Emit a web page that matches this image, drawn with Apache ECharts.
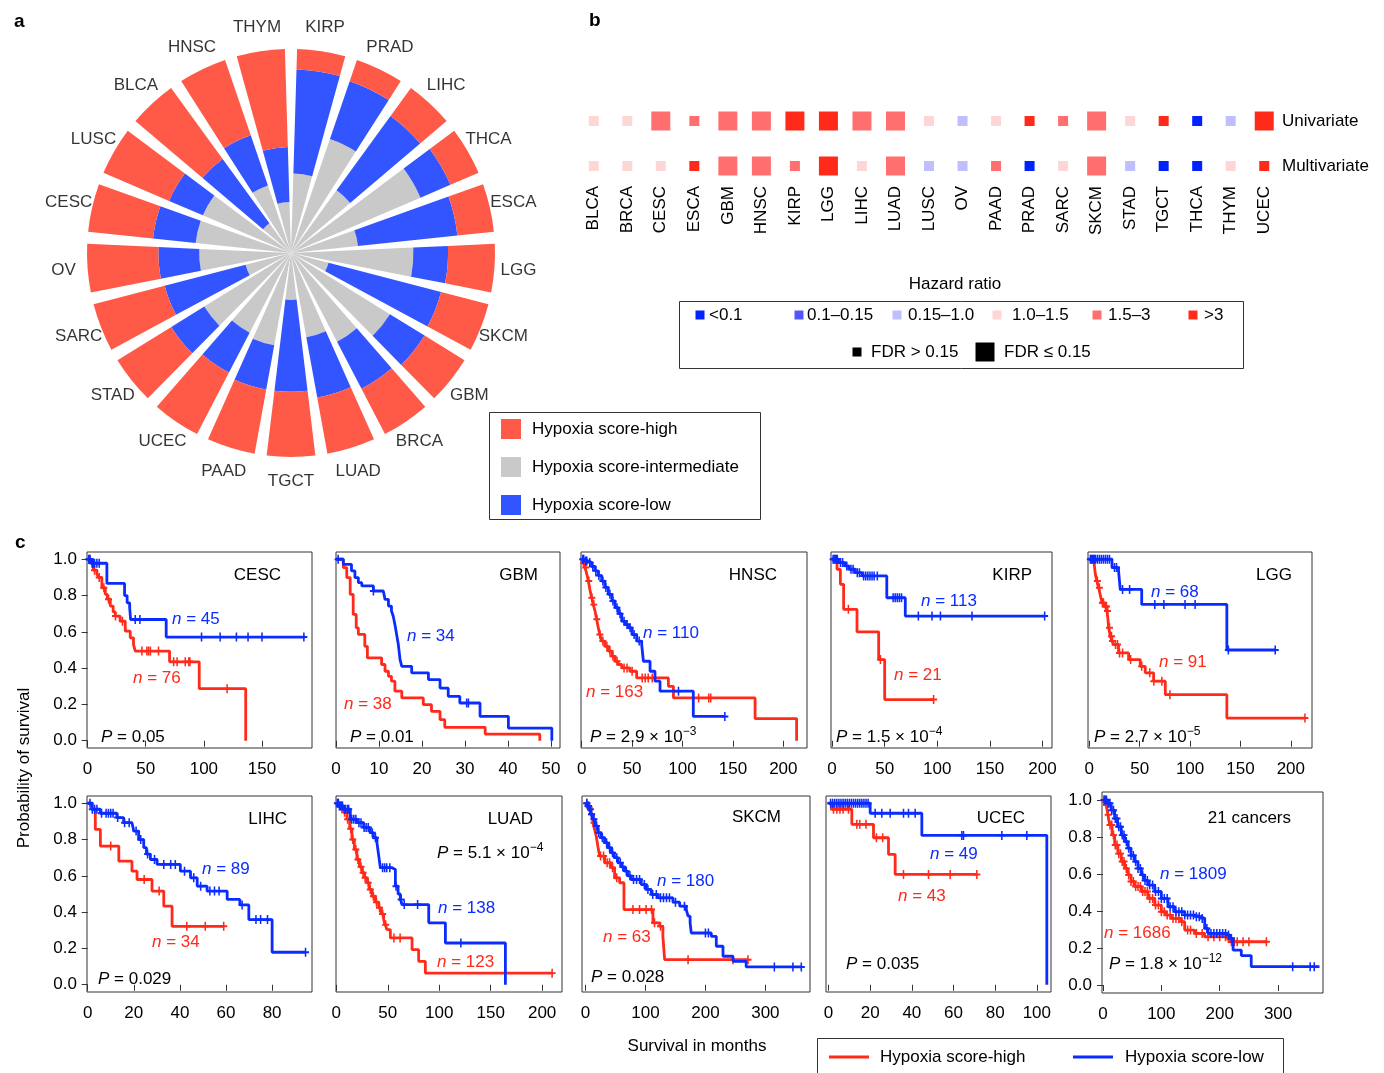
<!DOCTYPE html>
<html><head><meta charset="utf-8">
<script src="https://cdn.jsdelivr.net/npm/echarts@6/dist/echarts.min.js"></script>
<style>html,body{margin:0;padding:0;background:#fff}#c{width:1384px;height:1073px}</style>
</head><body><div id="c"></div>
<script>
const FONT = '"Liberation Sans", Arial, Helvetica, sans-serif';
const FS = 17;

// ---------- Panel a data ----------
const polarCats = ['KIRP','PRAD','LIHC','THCA','ESCA','LGG','SKCM','GBM','BRCA','LUAD','TGCT','PAAD','UCEC','STAD','SARC','OV','CESC','LUSC','BLCA','HNSC','THYM'];
const interShare = [0.39,0.59,0.38,0.69,0.33,0.60,0.19,0.57,0.49,0.42,0.23,0.46,0.44,0.50,0.23,0.45,0.47,0.47,0.18,0.35,0.25];
const lowShare   = [0.51,0.30,0.45,0.16,0.49,0.17,0.57,0.20,0.26,0.30,0.45,0.22,0.22,0.19,0.41,0.20,0.21,0.18,0.39,0.26,0.27];
const highShare  = [0.10,0.11,0.17,0.15,0.18,0.23,0.24,0.23,0.25,0.28,0.32,0.32,0.34,0.31,0.36,0.35,0.32,0.35,0.43,0.39,0.48];

// ---------- Panel b data ----------
const hrCats = ['BLCA','BRCA','CESC','ESCA','GBM','HNSC','KIRP','LGG','LIHC','LUAD','LUSC','OV','PAAD','PRAD','SARC','SKCM','STAD','TGCT','THCA','THYM','UCEC'];
const hrClassLabels = ['<0.1','0.1\u20130.15','0.15\u20131.0','1.0\u20131.5','1.5\u20133','>3'];
const uniClass   = [3,3,4,4,4,4,5,5,4,4,3,2,3,5,4,4,3,5,0,2,5];
const uniSig     = [0,0,1,0,1,1,1,1,1,1,0,0,0,0,0,1,0,0,0,0,1];
const multiClass = [3,3,3,5,4,4,4,5,3,4,2,2,4,0,3,4,2,0,0,3,5];
const multiSig   = [0,0,0,0,1,1,0,1,0,1,0,0,0,0,0,1,0,0,0,0,0];

// ---------- Panel c data ----------
const kmNames = ['CESC','GBM','HNSC','KIRP','LGG','LIHC','LUAD','SKCM','UCEC','21 cancers'];
const kmNHigh = [76,38,163,21,91,34,123,63,43,1686];
const kmNLow  = [45,34,110,113,68,89,138,180,49,1809];
const kmP = [['0.05'],['0.01'],['2.9','\u22123'],['1.5','\u22124'],['2.7','\u22125'],['0.029'],['5.1','\u22124'],['0.028'],['0.035'],['1.8','\u221212']];
const kmXTicks = [[0,50,100,150],[0,10,20,30,40,50],[0,50,100,150,200],[0,50,100,150,200],[0,50,100,150,200],[0,20,40,60,80],[0,50,100,150,200],[0,100,200,300],[0,20,40,60,80,100],[0,100,200,300]];
const kmYTicks = [0,0.2,0.4,0.6,0.8,1.0];

const cescHigh = [[0,1],[3,0.98],[5,0.94],[8,0.92],[9.5,0.90],[12.3,0.843],[15.2,0.807],[17,0.78],[19.5,0.742],[22,0.71],[23.8,0.687],[28,0.659],[32.4,0.604],[36.7,0.567],[39.5,0.53],[41,0.494],[70.5,0.435],[96,0.287],[136,0]];
const cescHighCens = [2,4,6,10,14,18,24,30,46.7,51,52.4,54,61,74,77,84,87,88,120];
const cescLow = [[0,1],[3,0.978],[16.6,0.867],[31.8,0.80],[34,0.76],[36.2,0.733],[37,0.668],[67.6,0.571],[187,0.571]];
const cescLowCens = [1,2,4,5,6,8,10,41,45,98,114,128,138,150,186];

const gbmHigh = [[0,1],[1.7,0.954],[2.5,0.899],[3.3,0.807],[4.0,0.696],[4.7,0.622],[5.2,0.586],[6.7,0.52],[7.3,0.457],[10.6,0.42],[11.4,0.383],[12.2,0.355],[12.9,0.328],[13.7,0.273],[15.3,0.236],[20.3,0.199],[22.2,0.162],[24.2,0.116],[25.3,0.074],[34.7,0.037],[47.4,0]];
const gbmHighCens = [];
const gbmLow = [[0,1],[1.7,0.972],[3.6,0.936],[4.4,0.899],[5.2,0.871],[6.0,0.853],[8.7,0.825],[11.0,0.816],[11.4,0.779],[12.2,0.742],[12.9,0.715],[13.3,0.687],[13.7,0.641],[14.1,0.586],[14.5,0.53],[14.9,0.447],[15.3,0.41],[17.6,0.374],[21.5,0.337],[24.2,0.29],[26.1,0.245],[28.8,0.208],[33.5,0.134],[40.1,0.070],[50.2,0]];
const gbmLowCens = [0.5,8.7,30.4,30.8];

const hnscHigh = [[0,1],[1.5,0.98],[3.3,0.954],[5,0.92],[6.6,0.88],[8.2,0.83],[9.9,0.788],[11.5,0.75],[13.2,0.715],[14.8,0.67],[16.5,0.622],[18,0.585],[19.8,0.549],[23,0.52],[26.4,0.494],[30,0.465],[33.1,0.438],[36,0.42],[39.7,0.401],[47.9,0.383],[54.5,0.346],[86,0.30],[91,0.236],[172,0.122],[213.2,0]];
const hnscHighCens = [2,4,7,10,12,15,18,21,25,28,31,35,42,45,50,60,63,66,70,116,126,128];
const hnscLow = [[0,1],[3,0.99],[6.6,0.982],[10,0.96],[13.2,0.936],[16.5,0.91],[19.8,0.88],[23,0.845],[26.4,0.807],[30,0.77],[33.1,0.733],[36.5,0.70],[39.7,0.659],[43,0.64],[46.3,0.622],[50,0.585],[54.5,0.549],[59.5,0.53],[61.2,0.438],[67.8,0.383],[72.7,0.328],[77.7,0.273],[110.7,0.134],[142.1,0.134]];
const hnscLowCens = [1,2,4,5,8,11,14,17,21,24,28,31,35,38,42,45,48,52,57,96,142];

const kirpHigh = [[0,1],[4.7,0.945],[7.9,0.862],[11,0.724],[23.7,0.60],[44.3,0.447],[50,0.227],[96.5,0.227]];
const kirpHighCens = [15.5,46,96.5];
const kirpLow = [[0,1],[6,0.982],[12,0.963],[16,0.945],[22,0.926],[28.5,0.908],[52,0.788],[69.6,0.687],[202.5,0.687]];
const kirpLowCens = [1,2,3,4,5,8,10,14,18,20,24,26,30,32,34,36,38,40,43,58,60,62,64,66,82,95,103,133,202];

const lggHigh = [[0,1],[4.3,0.99],[6,0.917],[7.5,0.88],[9.3,0.843],[11,0.80],[12.6,0.76],[15,0.74],[17.5,0.715],[18.5,0.67],[19.2,0.622],[20.8,0.576],[22.5,0.55],[24,0.53],[29,0.484],[39,0.447],[50.6,0.41],[55.5,0.374],[63.8,0.328],[75.4,0.254],[136.5,0.125],[214,0.125]];
const lggHighCens = [5,8,10,13,14,16,17,18,20,22,23,26,28,30,33,41,52,60,64,72,80,214];
const lggLow = [[0,1],[22.5,0.954],[29,0.936],[30.7,0.834],[52,0.751],[136.5,0.50],[184.5,0.50]];
const lggLowCens = [1,2,3,4,5,6,8,10,12,14,16,18,20,25,27,33,40,65,74,95,105,138,184.5];

const lihcHigh = [[0,1],[1.9,0.967],[3.3,0.856],[5.5,0.764],[13.5,0.681],[19.2,0.626],[21.4,0.58],[27.9,0.516],[33,0.433],[36.6,0.322],[59,0.322]];
const lihcHighCens = [10,24.5,31,43,51,59];
const lihcLow = [[0,1],[1.9,0.967],[5.5,0.945],[12.7,0.921],[15.6,0.893],[19.2,0.884],[20,0.847],[22.1,0.80],[24.3,0.755],[25.5,0.72],[27.2,0.69],[30.1,0.663],[40.2,0.626],[44.6,0.589],[47.5,0.543],[51.8,0.516],[60.5,0.47],[66,0.44],[69.9,0.359],[80,0.179],[94.5,0.179]];
const lihcLowCens = [1,2,3,4,6,8,9,10,11,13,16,18,21,23,26,29,33,36,38,42,46,49,53,55,57,67,73,75,78,94.5];

const luadHigh = [[0,1],[3.9,0.985],[7,0.95],[10.4,0.912],[13,0.86],[15.2,0.80],[17.5,0.745],[20,0.69],[22.5,0.65],[25,0.617],[27.5,0.59],[29.8,0.562],[32,0.525],[34.7,0.488],[38,0.455],[41.2,0.424],[43.5,0.39],[46,0.359],[47.5,0.33],[49.3,0.304],[52.5,0.258],[73.6,0.193],[80,0.129],[86.5,0.064],[209.7,0.064]];
const luadHighCens = [2,5,8,11,14,16,19,21,24,26,28,31,33,36,39,42,45,48,56,62,209.7];
const luadLow = [[0,1],[3,0.985],[7,0.967],[13.6,0.912],[20,0.893],[26.6,0.866],[33,0.838],[36,0.81],[39.5,0.782],[41,0.72],[42.8,0.645],[54,0.635],[57.4,0.543],[60,0.50],[62.2,0.47],[64,0.442],[89.8,0.341],[106,0.23],[164.3,0]];
const luadLowCens = [1,2,3,4,5,6,8,9,11,12,15,17,19,22,24,27,29,31,35,38,45,47,49,52,58,63,66,79,121];

const skcmHigh = [[0,1],[3.9,0.976],[8,0.94],[12.2,0.893],[15,0.855],[17.8,0.82],[20.6,0.76],[23.4,0.709],[31.7,0.672],[42.8,0.645],[48.4,0.589],[56.8,0.562],[64,0.414],[112.4,0.341],[123.5,0.322],[129,0.267],[131.9,0.138],[271,0.138]];
const skcmHighCens = [2,6,10,14,25,30,36,40,45,52,79,90,101,110,115,125,171,246,271];
const skcmLow = [[0,1],[3,0.985],[6.7,0.967],[9.5,0.94],[12.2,0.912],[16,0.875],[20.6,0.838],[26,0.81],[31.7,0.783],[37,0.755],[42.8,0.727],[48,0.70],[54,0.672],[59,0.65],[65,0.626],[70,0.60],[76.2,0.58],[92.9,0.552],[100.9,0.525],[109.6,0.497],[120.8,0.479],[145.8,0.455],[157,0.433],[168,0.414],[171,0.378],[174.4,0.341],[176.4,0.285],[209.8,0.267],[218.1,0.212],[229.3,0.157],[246,0.129],[268,0.098],[360,0.098]];
const skcmLowCens = [2,4,5,8,10,14,18,22,28,35,40,45,52,58,62,68,74,80,85,90,98,104,112,118,125,130,135,140,150,165,200,205,315,346,360];

const ucecHigh = [[0,1],[1.6,0.967],[11.2,0.884],[21.6,0.81],[28.8,0.718],[32,0.608],[71.2,0.608]];
const ucecHighCens = [2.4,4,5.5,7,9.6,13.6,15,18,23,26,36,48,58.4,71.2];
const ucecLow = [[0,1],[20,0.945],[44.8,0.823],[104.8,0]];
const ucecLowCens = [1,2,3,4,5,6,7,8,9,10,11,12,13,14,15,16,17,18,19,22.4,25.6,29.6,36,38.4,41.6,64,64.8,83.2,95.2];

const panHigh = [[0,1],[3,0.99],[5.7,0.973],[8.5,0.92],[11.4,0.865],[15.5,0.81],[20,0.757],[25.5,0.71],[31.4,0.667],[37,0.63],[42.9,0.595],[48,0.56],[54.3,0.532],[65.7,0.505],[77,0.468],[88.6,0.432],[100,0.396],[108,0.378],[117,0.36],[134,0.342],[140,0.297],[157,0.279],[174,0.261],[214,0.252],[217,0.234],[280,0.234]];
const panHighCens = [2,4,6,9,12,15,18,21,24,27,30,33,36,40,44,48,52,56,60,64,68,72,76,80,85,90,95,100,105,110,115,120,125,130,135,145,150,160,170,180,190,200,210,215,220,225,230,240,250,280];
const panLow = [[0,1],[8.6,0.982],[14,0.945],[20,0.90],[25,0.855],[31.4,0.81],[37,0.775],[42.9,0.739],[48,0.70],[54.3,0.667],[60,0.63],[65.7,0.595],[71,0.565],[77,0.54],[88.6,0.505],[100,0.468],[111.4,0.423],[122.9,0.396],[140,0.378],[157,0.369],[168.6,0.36],[174.3,0.306],[180,0.279],[211.4,0.270],[217,0.252],[222.9,0.189],[237,0.159],[254,0.099],[371,0.099]];
const panLowCens = [2,4,6,9,12,15,18,21,24,27,30,33,36,40,44,48,52,56,60,64,68,72,76,80,85,90,95,100,105,110,115,120,125,130,135,140,145,150,155,160,165,170,178,185,190,195,200,205,210,215,220,325,355,362];

const kmHighCurves = [cescHigh,gbmHigh,hnscHigh,kirpHigh,lggHigh,lihcHigh,luadHigh,skcmHigh,ucecHigh,panHigh];
const kmLowCurves  = [cescLow,gbmLow,hnscLow,kirpLow,lggLow,lihcLow,luadLow,skcmLow,ucecLow,panLow];
const kmHighCens = [cescHighCens,gbmHighCens,hnscHighCens,kirpHighCens,lggHighCens,lihcHighCens,luadHighCens,skcmHighCens,ucecHighCens,panHighCens];
const kmLowCens  = [cescLowCens,gbmLowCens,hnscLowCens,kirpLowCens,lggLowCens,lihcLowCens,luadLowCens,skcmLowCens,ucecLowCens,panLowCens];

// ---------- layout & styles ----------
const RED = '#FF2A1A', BLUE = '#0B2CFF';
const POLAR_COLORS = {high:'#FF5A47', inter:'#C9C9C9', low:'#3355FF'};
const HR_COLORS = ['#0022FF','#5555FF','#BFBFFF','#FFD6D6','#FF6F6F','#FF2A1A'];
const POLAR_LABEL_R = 1.118;
const kmLayout = [
 {left:87, top:552, width:225, height:196, xr:[-0.5,193], yr:[-0.04,1.04], ylab:true, title:[281,575], nLow:[172,619], nHigh:[133,678], p:[101,737]},
 {left:336, top:552, width:224, height:196, xr:[0,52.1], yr:[-0.04,1.04], title:[538,575], nLow:[407,636], nHigh:[344,704], p:[350,737]},
 {left:581, top:552, width:226, height:196, xr:[-0.7,223.5], yr:[-0.04,1.04], title:[777,575], nLow:[643,633], nHigh:[586,692], p:[590,737]},
 {left:831, top:552, width:221, height:196, xr:[-1,209], yr:[-0.04,1.04], title:[1032,575], nLow:[921,601], nHigh:[894,675], p:[836,737]},
 {left:1088, top:552, width:224, height:196, xr:[-1.3,221], yr:[-0.04,1.04], title:[1292,575], nLow:[1151,592], nHigh:[1159,662], p:[1094,737]},
 {left:87, top:796, width:225, height:196, xr:[-0.3,97.3], yr:[-0.04,1.04], ylab:true, title:[287,819], nLow:[202,869], nHigh:[152,942], p:[98,979]},
 {left:336, top:796, width:226, height:196, xr:[-0.3,219.3], yr:[-0.04,1.04], title:[533,819], nLow:[438,908], nHigh:[437,962], p:[437,853]},
 {left:582, top:796, width:228, height:196, xr:[-6,374.5], yr:[-0.04,1.04], title:[781,817], nLow:[657,881], nHigh:[603,937], p:[591,977]},
 {left:826, top:796, width:225, height:196, xr:[-1.2,106.8], yr:[-0.04,1.04], title:[1025,818], nLow:[930,854], nHigh:[898,896], p:[846,964]},
 {left:1102, top:792, width:221, height:201, xr:[-1.7,377], yr:[-0.043,1.043], ylab:true, title:[1291,818], nLow:[1160,874], nHigh:[1104,933], p:[1109,964]}
];

function survAt(curve, t) {
  let s = 1;
  for (const [tt, ss] of curve) { if (tt <= t) s = ss; else break; }
  return s;
}
const CROSS = 'path://M3.9,0H6.1V3.9H10V6.1H6.1V10H3.9V6.1H0V3.9H3.9Z';

const grids = [{left:577, top:98.5, width:704, height:85.5, show:false}];
const xAxes = [{
  gridIndex:0, type:'category', data:hrCats, boundaryGap:true,
  axisLine:{show:false}, axisTick:{show:false}, splitLine:{show:false},
  axisLabel:{rotate:90, interval:0, margin:2, fontSize:FS, color:'#000', fontFamily:FONT}
}];
const yAxes = [{
  gridIndex:0, type:'value', min:0.6, max:2.5, position:'right',
  axisLine:{show:false}, axisTick:{show:false}, splitLine:{show:false},
  axisLabel:{customValues:[1,2], margin:1, fontSize:FS, color:'#000', fontFamily:FONT,
    formatter: v => (Math.abs(v-2) < 1e-6 ? 'Univariate' : 'Multivariate')}
}];

const series = [
  {type:'bar', coordinateSystem:'polar', name:'Hypoxia score-intermediate', stack:'a', data:interShare, barCategoryGap:'20%', itemStyle:{color:POLAR_COLORS.inter}},
  {type:'bar', coordinateSystem:'polar', name:'Hypoxia score-low', stack:'a', data:lowShare, barCategoryGap:'20%', itemStyle:{color:POLAR_COLORS.low}},
  {type:'bar', coordinateSystem:'polar', name:'Hypoxia score-high', stack:'a', data:highShare, barCategoryGap:'20%', itemStyle:{color:POLAR_COLORS.high}},
  {type:'scatter', coordinateSystem:'polar', name:'cancer labels', clip:false, symbolSize:1, silent:true,
   itemStyle:{color:'rgba(0,0,0,0)'},
   data: polarCats.map((c,i) => [POLAR_LABEL_R, i]),
   label:{show:true, position:'inside', formatter: p => polarCats[p.dataIndex], fontSize:FS, color:'#000', fontFamily:FONT}},
  {type:'scatter', xAxisIndex:0, yAxisIndex:0, symbol:'rect',
   data: hrCats.map((c,i)=>[i,2,uniClass[i],uniSig[i]]).concat(hrCats.map((c,i)=>[i,1,multiClass[i],multiSig[i]])),
   symbolSize: v => (v[3] ? 19 : 10),
   itemStyle:{opacity:1, color: p => HR_COLORS[p.value[2]]}}
];

const graphics = [];
function txt(x, y, text, o) {
  o = o || {};
  const st = Object.assign({text:text, fill:'#000', fontSize:FS, fontFamily:FONT,
      align:'left', verticalAlign:'middle'}, o.style || {});
  st.textAlign = st.align;
  st.textVerticalAlign = st.verticalAlign;
  const el = {type:'text', x:x, y:y, silent:true, z:100, style:st};
  if (o.rotation) el.rotation = o.rotation;
  return el;
}
function richStyles(color) {
  return {
    i:{fontStyle:'italic', fontSize:FS, fontFamily:FONT, fill:color, lineHeight:23},
    r:{fontSize:FS, fontFamily:FONT, fill:color, lineHeight:23},
    s:{fontSize:12, fontFamily:FONT, fill:color, lineHeight:12, verticalAlign:'top'}
  };
}

kmLayout.forEach((L, k) => {
  const gi = k + 1;
  grids.push({left:L.left, top:L.top, width:L.width, height:L.height, show:true, borderColor:'#333', borderWidth:1, backgroundColor:'transparent'});
  xAxes.push({gridIndex:gi, type:'value', min:L.xr[0], max:L.xr[1],
    axisLine:{show:false}, splitLine:{show:false},
    axisTick:{show:true, customValues:kmXTicks[k], length:6, lineStyle:{color:'#333'}},
    axisLabel:{customValues:kmXTicks[k], margin:13, fontSize:FS, color:'#000', fontFamily:FONT}});
  yAxes.push({gridIndex:gi, type:'value', min:L.yr[0], max:L.yr[1],
    axisLine:{show:false}, splitLine:{show:false},
    axisTick:{show:!!L.ylab, customValues:kmYTicks, length:6, lineStyle:{color:'#333'}},
    axisLabel:{show:!!L.ylab, customValues:kmYTicks, margin:10, fontSize:FS, color:'#000', fontFamily:FONT, formatter: v => v.toFixed(1)}});
  const hi = kmHighCurves[k], lo = kmLowCurves[k];
  series.push({type:'line', name:kmNames[k]+' high', xAxisIndex:gi, yAxisIndex:gi, data:hi, step:'end', symbol:'none', showSymbol:false, lineStyle:{color:RED, width:2.8}, itemStyle:{color:RED}, z:3});
  series.push({type:'scatter', xAxisIndex:gi, yAxisIndex:gi, data:kmHighCens[k].map(t=>[t, survAt(hi,t)]), symbol:CROSS, symbolSize:[7,9], itemStyle:{color:RED, opacity:1}, z:4});
  series.push({type:'line', name:kmNames[k]+' low', xAxisIndex:gi, yAxisIndex:gi, data:lo, step:'end', symbol:'none', showSymbol:false, lineStyle:{color:BLUE, width:2.8}, itemStyle:{color:BLUE}, z:5});
  series.push({type:'scatter', xAxisIndex:gi, yAxisIndex:gi, data:kmLowCens[k].map(t=>[t, survAt(lo,t)]), symbol:CROSS, symbolSize:[7,9], itemStyle:{color:BLUE, opacity:1}, z:6});

  graphics.push(txt(L.title[0], L.title[1], kmNames[k], {style:{align:'right'}}));
  graphics.push(txt(L.nLow[0], L.nLow[1], '{i|n}{r| = ' + kmNLow[k] + '}', {style:{fill:BLUE, rich:richStyles(BLUE)}}));
  graphics.push(txt(L.nHigh[0], L.nHigh[1], '{i|n}{r| = ' + kmNHigh[k] + '}', {style:{fill:RED, rich:richStyles(RED)}}));
  const pv = kmP[k];
  const ptxt = pv.length > 1 ? '{i|P}{r| = ' + pv[0] + ' \u00d7 10}{s|' + pv[1] + '}' : '{i|P}{r| = ' + pv[0] + '}';
  graphics.push(txt(L.p[0], L.p[1], ptxt, {style:{rich:richStyles('#000')}}));
});

// panel letters & axis titles
graphics.push(txt(14, 22, 'a', {style:{fontSize:19, fontWeight:'bold'}}));
graphics.push(txt(589, 21, 'b', {style:{fontSize:19, fontWeight:'bold'}}));
graphics.push(txt(15, 543, 'c', {style:{fontSize:19, fontWeight:'bold'}}));
graphics.push(txt(24, 768, 'Probability of survival', {rotation:Math.PI/2, style:{align:'center'}}));
graphics.push(txt(697, 1046, 'Survival in months', {style:{align:'center'}}));

// panel a legend box
graphics.push({type:'rect', silent:true, shape:{x:489.5, y:412.5, width:271, height:107}, style:{fill:'none', stroke:'#333', lineWidth:1}});

// panel b legend
graphics.push(txt(955, 284, 'Hazard ratio', {style:{align:'center'}}));
graphics.push({type:'rect', silent:true, shape:{x:679.5, y:301.5, width:564, height:67}, style:{fill:'none', stroke:'#333', lineWidth:1}});
const hrLegX = [700, 799, 897, 997, 1097, 1193];
const hrLegTx = [709, 807, 908, 1012, 1108, 1204];
hrClassLabels.forEach((lab, i) => {
  graphics.push({type:'rect', silent:true, shape:{x:hrLegX[i]-4.5, y:310.5, width:9, height:9}, style:{fill:HR_COLORS[i]}});
  graphics.push(txt(hrLegTx[i], 315, lab));
});
graphics.push({type:'rect', silent:true, shape:{x:852.5, y:347.5, width:9, height:9}, style:{fill:'#000'}});
graphics.push(txt(871, 352, 'FDR > 0.15'));
graphics.push({type:'rect', silent:true, shape:{x:975.5, y:342.5, width:19, height:19}, style:{fill:'#000'}});
graphics.push(txt(1004, 352, 'FDR \u2264 0.15'));

// panel c legend
graphics.push({type:'rect', silent:true, shape:{x:817.5, y:1038.5, width:466, height:50}, style:{fill:'none', stroke:'#333', lineWidth:1}});
graphics.push({type:'line', silent:true, shape:{x1:829, y1:1057, x2:869, y2:1057}, style:{stroke:RED, lineWidth:3}});
graphics.push(txt(880, 1057, 'Hypoxia score-high'));
graphics.push({type:'line', silent:true, shape:{x1:1073, y1:1057, x2:1113, y2:1057}, style:{stroke:BLUE, lineWidth:3}});
graphics.push(txt(1125, 1057, 'Hypoxia score-low'));

const option = {
  animation:false,
  backgroundColor:'#fff',
  textStyle:{fontFamily:FONT},
  polar:{center:[291,253], radius:[0,204]},
  angleAxis:{type:'category', data:polarCats, startAngle:90, clockwise:true,
    axisLine:{show:false}, axisTick:{show:false}, splitLine:{show:false},
    axisLabel:{show:false}},
  radiusAxis:{type:'value', min:0, max:1, show:false, axisLine:{show:false}, axisLabel:{show:false}, axisTick:{show:false}, splitLine:{show:false}},
  legend:{left:501, top:419, orient:'vertical', padding:0, itemWidth:20, itemHeight:20, itemGap:18, icon:'rect',
    selectedMode:false, data:['Hypoxia score-high','Hypoxia score-intermediate','Hypoxia score-low'],
    textStyle:{fontSize:FS, color:'#000', fontFamily:FONT, padding:[0,0,0,6]}},
  grid:grids, xAxis:xAxes, yAxis:yAxes, series:series, graphic:graphics
};

const chart = echarts.init(document.getElementById('c'), null, {renderer:'canvas', width:1384, height:1073});
chart.setOption(option);
</script>
</body></html>
